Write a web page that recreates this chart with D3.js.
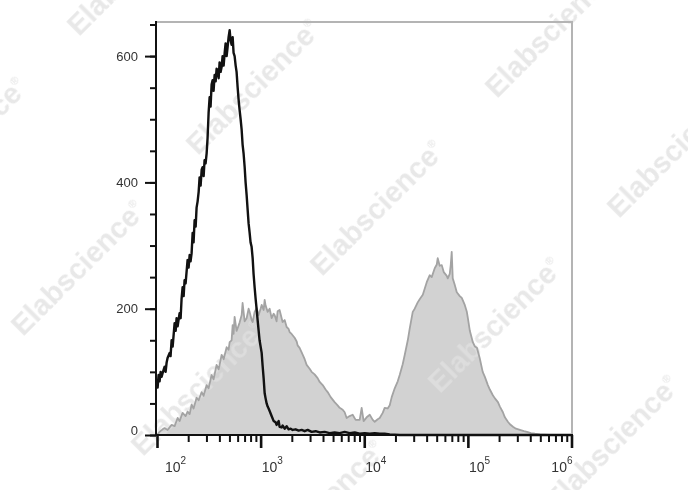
<!DOCTYPE html>
<html><head><meta charset="utf-8">
<script src="https://cdn.jsdelivr.net/npm/d3@7"></script>
<style>html,body{margin:0;padding:0;background:#fff;}svg{display:block}</style>
</head><body><svg id="c" width="688" height="490"></svg>
<script>
// [log10(fluorescence), count]
const blackHist = [[2.000,88],[2.006,75],[2.015,95],[2.025,85],[2.035,100],[2.044,92],[2.054,98],[2.073,108],[2.083,100],[2.093,115],[2.102,122],[2.122,130],[2.131,125],[2.141,150],[2.151,140],[2.170,177],[2.180,165],[2.189,185],[2.199,172],[2.218,193],[2.228,185],[2.237,215],[2.247,234],[2.257,220],[2.266,245],[2.276,240],[2.295,277],[2.305,265],[2.315,285],[2.324,275],[2.334,288],[2.344,320],[2.353,305],[2.363,340],[2.373,330],[2.382,360],[2.392,370],[2.402,385],[2.411,408],[2.421,395],[2.431,420],[2.440,424],[2.450,410],[2.459,435],[2.469,430],[2.479,446],[2.488,470],[2.498,510],[2.508,535],[2.517,520],[2.527,555],[2.537,562],[2.546,545],[2.556,570],[2.566,560],[2.575,580],[2.585,578],[2.595,565],[2.604,590],[2.614,575],[2.624,583],[2.633,600],[2.643,585],[2.653,605],[2.662,620],[2.672,600],[2.681,614],[2.691,630],[2.701,641],[2.710,625],[2.720,618],[2.730,630],[2.739,605],[2.749,600],[2.759,585],[2.768,575],[2.778,551],[2.788,530],[2.797,515],[2.807,500],[2.817,483],[2.826,460],[2.836,445],[2.846,424],[2.855,400],[2.865,380],[2.875,356],[2.884,335],[2.894,320],[2.903,305],[2.913,298],[2.923,280],[2.932,255],[2.942,234],[2.952,215],[2.961,200],[2.971,182],[2.981,165],[2.990,150],[3.000,140],[3.010,130],[3.019,110],[3.029,90],[3.039,66],[3.048,58],[3.058,50],[3.068,45],[3.077,42],[3.087,38],[3.106,30],[3.126,22],[3.145,20],[3.154,16],[3.174,22],[3.183,13],[3.203,12],[3.212,15],[3.232,10],[3.251,14],[3.270,9],[3.290,10],[3.309,8],[3.338,9],[3.367,7],[3.396,8],[3.425,6],[3.454,8],[3.492,5],[3.531,6],[3.570,4],[3.618,5],[3.666,3],[3.714,4],[3.763,3],[3.811,5],[3.859,3],[3.908,4],[3.956,2],[4.004,3],[4.053,2],[4.101,3],[4.149,2],[4.197,2],[4.246,1],[4.342,0],[4.825,0],[6.000,0]];

const grayHist = [[2.000,0],[2.025,5],[2.054,9],[2.073,11],[2.102,8],[2.141,16],[2.170,14],[2.199,27],[2.218,22],[2.247,35],[2.276,30],[2.295,37],[2.315,33],[2.334,48],[2.353,42],[2.382,59],[2.402,55],[2.431,68],[2.450,62],[2.479,79],[2.498,74],[2.527,95],[2.546,88],[2.575,111],[2.595,104],[2.624,127],[2.643,120],[2.672,139],[2.691,135],[2.701,147],[2.720,150],[2.730,174],[2.739,160],[2.749,187],[2.768,165],[2.778,169],[2.797,178],[2.817,190],[2.826,209],[2.846,180],[2.865,185],[2.884,200],[2.894,195],[2.913,182],[2.923,179],[2.942,195],[2.961,201],[2.981,190],[3.000,200],[3.010,206],[3.029,198],[3.039,214],[3.048,205],[3.068,195],[3.087,200],[3.106,185],[3.126,192],[3.135,190],[3.154,180],[3.164,196],[3.183,198],[3.203,185],[3.212,179],[3.232,182],[3.251,171],[3.270,168],[3.280,163],[3.299,160],[3.328,154],[3.348,148],[3.357,142],[3.376,138],[3.396,131],[3.425,120],[3.444,111],[3.473,105],[3.492,100],[3.521,96],[3.550,90],[3.570,84],[3.599,79],[3.627,72],[3.647,68],[3.676,60],[3.714,52],[3.743,47],[3.763,43],[3.792,40],[3.811,36],[3.830,27],[3.859,30],[3.888,32],[3.917,24],[3.956,24],[3.975,43],[3.994,22],[4.023,28],[4.053,32],[4.082,24],[4.101,21],[4.130,25],[4.149,27],[4.178,35],[4.197,43],[4.226,42],[4.246,47],[4.265,60],[4.294,74],[4.323,85],[4.342,95],[4.371,112],[4.391,127],[4.420,150],[4.439,169],[4.468,195],[4.487,200],[4.516,210],[4.535,215],[4.565,222],[4.584,232],[4.603,242],[4.632,253],[4.651,250],[4.680,264],[4.700,270],[4.709,280],[4.728,268],[4.748,269],[4.767,258],[4.777,256],[4.796,252],[4.806,248],[4.825,255],[4.835,270],[4.844,290],[4.854,248],[4.873,238],[4.893,226],[4.922,220],[4.941,217],[4.970,206],[4.990,195],[5.000,185],[5.019,165],[5.048,147],[5.068,140],[5.087,138],[5.114,122],[5.143,100],[5.164,92],[5.193,79],[5.212,72],[5.241,63],[5.261,58],[5.290,52],[5.309,45],[5.338,36],[5.357,28],[5.386,21],[5.406,17],[5.435,13],[5.464,10],[5.502,8],[5.541,6],[5.570,5],[5.609,3],[5.647,2],[5.695,1],[5.790,0],[6.000,0]];

const yMajorTicks = [0, 200, 400, 600];
const yMinorTicks = [0, 50, 100, 150, 200, 250, 300, 350, 400, 450, 500, 550, 600, 650];
const xMajorTicks = [1e2, 1e3, 1e4, 1e5, 1e6];
const xTickExponents = ["2", "3", "4", "5", "6"];
const watermarkText = "Elabscience";

const svg = d3.select("#c");
const x = d3.scaleLog().domain([1e2, 1e6]).range([157, 571.5]);
const y = d3.scaleLinear().domain([0, 654]).range([435, 22]);
const X0 = 156, XR = 572, YT = 22, YB = 435;
const FONT = "'Liberation Sans', Arial, sans-serif";

// gray filled histogram
const area = d3.area().x(d => x(Math.pow(10, d[0]))).y0(y(0)).y1(d => y(d[1]));
const line = d3.line().x(d => x(Math.pow(10, d[0]))).y(d => y(d[1]));
svg.append("path").datum(grayHist).attr("d", area).attr("fill", "#d2d2d2").attr("stroke", "none");

// watermarks
const wm = [[134,-32],[253,87],[377,208],[495,325],[612,443],[-40,145],[78,268],[198,388],[318,508],[552,30],[674,150]];
const wmg = svg.append("g").attr("opacity", 0.75);
wm.forEach(p => {
  const t = wmg.append("text")
    .attr("transform", `translate(${p[0]},${p[1]}) rotate(-45)`)
    .attr("text-anchor", "middle").attr("dy", "0.35em")
    .attr("font-family", FONT)
    .attr("font-weight", "bold").attr("font-size", 29).attr("fill", "#e0e0e0");
  t.append("tspan").text(watermarkText);
  t.append("tspan").attr("font-size", 11).attr("dy", -13).text("®");
});

svg.append("path").datum(grayHist).attr("d", line).attr("fill", "none")
  .attr("stroke", "#a3a3a3").attr("stroke-width", 1.8).attr("stroke-linejoin", "round");
svg.append("path").datum(blackHist).attr("d", line).attr("fill", "none")
  .attr("stroke", "#111").attr("stroke-width", 2.4).attr("stroke-linejoin", "round");

// frame top/right
svg.append("path").attr("d", `M${X0},${YT}H${XR}V${YB}`).attr("fill", "none")
  .attr("stroke", "#b4b4b4").attr("stroke-width", 2);

// y axis
const yMinor = svg.append("g").attr("transform", `translate(${X0},0)`)
  .call(d3.axisLeft(y).tickValues(yMinorTicks).tickSize(6).tickFormat(""));
const yMajor = svg.append("g").attr("transform", `translate(${X0},0)`)
  .call(d3.axisLeft(y).tickValues(yMajorTicks).tickSize(11).tickFormat(""));
[yMinor, yMajor].forEach(g => {
  g.select(".domain").remove();
  g.selectAll(".tick line").attr("stroke", "#111").attr("stroke-width", 2);
});
svg.append("line").attr("x1", X0).attr("x2", X0).attr("y1", YT - 1).attr("y2", YB + 1)
  .attr("stroke", "#111").attr("stroke-width", 2);
svg.append("g").selectAll("text").data(yMajorTicks).join("text")
  .attr("x", 138).attr("y", d => y(d) + (d === 0 ? -5 : 0)).attr("dy", "0.35em")
  .attr("text-anchor", "end").attr("font-family", FONT)
  .attr("font-size", 13).attr("fill", "#333").text(d => d);

// x axis
const xMinorVals = [];
for (let e = 2; e < 6; e++) for (let k = 2; k <= 9; k++) xMinorVals.push(k * Math.pow(10, e));
const xMinor = svg.append("g").attr("transform", `translate(0,${YB})`)
  .call(d3.axisBottom(x).tickValues(xMinorVals).tickSize(7).tickFormat(""));
const xMajor = svg.append("g").attr("transform", `translate(0,${YB})`)
  .call(d3.axisBottom(x).tickValues(xMajorTicks).tickSize(13).tickFormat(""));
[xMinor, xMajor].forEach(g => {
  g.select(".domain").remove();
  g.selectAll(".tick line").attr("stroke", "#111").attr("stroke-width", 2);
});
xMajor.selectAll(".tick line").attr("stroke-width", 2.6);
svg.append("line").attr("x1", X0 - 1).attr("x2", XR + 1).attr("y1", YB).attr("y2", YB)
  .attr("stroke", "#111").attr("stroke-width", 2);

const xl = svg.append("g").selectAll("text").data(xMajorTicks).join("text")
  .attr("x", (d, i) => x(d) + (i === 0 ? 8 : 1))
  .attr("y", 472)
  .attr("text-anchor", (d, i) => i === xMajorTicks.length - 1 ? "end" : "start")
  .attr("font-family", FONT)
  .attr("font-size", 14).attr("fill", "#333");
xl.append("tspan").text("10");
xl.append("tspan").attr("font-size", 10).attr("dy", -8).text((d, i) => xTickExponents[i]);
</script></body></html>
